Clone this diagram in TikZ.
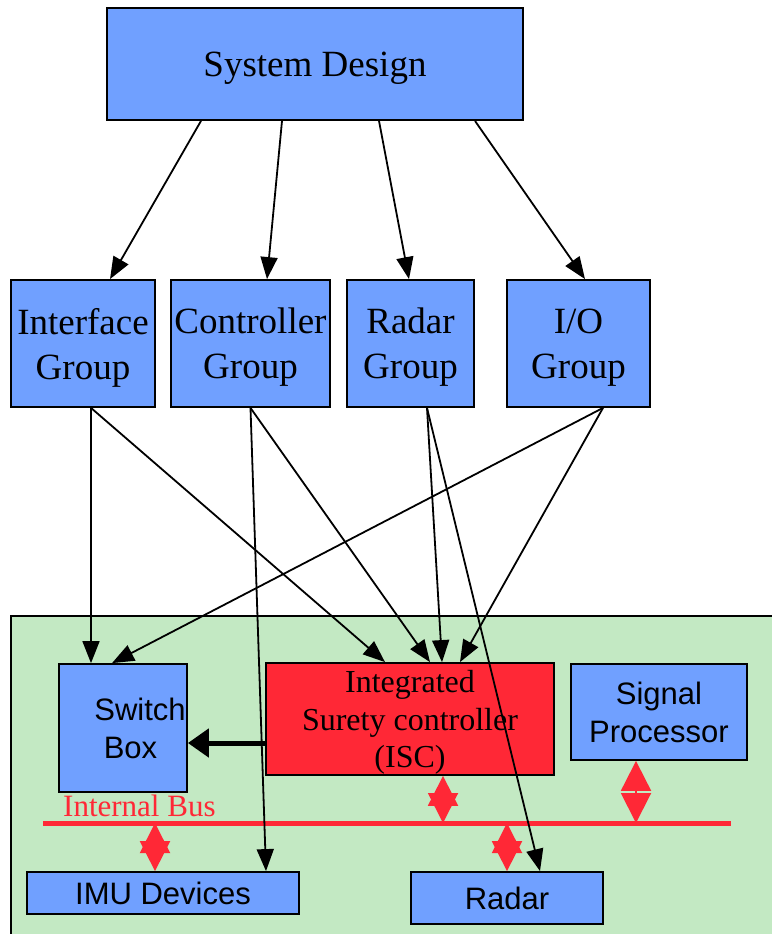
\documentclass[tikz,border=0pt]{standalone}
\usepackage{fontspec}
\setmainfont{Liberation Serif}
\setsansfont{Liberation Sans}
\usetikzlibrary{positioning, arrows.meta}

\definecolor{boxblue}{RGB}{112,160,255}
\definecolor{iscred}{RGB}{255,40,54}
\definecolor{boardgreen}{RGB}{195,233,195}

\begin{document}
\begin{tikzpicture}[x=1pt, y=-1pt,
    blk/.style={draw, line width=1.8pt, fill=boxblue, inner sep=0pt, align=center},
    grp/.style={blk, font=\fontsize{37}{45}\selectfont, minimum height=127pt,
                text depth=-5pt},
    unit/.style={blk, font=\sffamily\fontsize{31}{38}\selectfont},
    link/.style={-{Triangle[length=22pt,width=17pt]}, line width=1.8pt},
    fat/.style={-{Triangle[length=21pt,width=28pt]}, line width=5pt},
    dbl/.style={{Triangle[length=30pt,width=30pt]}-{Triangle[length=30pt,width=30pt]},
                iscred, line width=2pt}]
  \useasboundingbox (0,0) rectangle (772,934);

  % board
  \fill[boardgreen] (11,616) rectangle (772,934);
  \draw[line width=1.5pt] (11,934) -- (11,616) -- (772,616);

  % top level
  \node[blk, font=\fontsize{37}{45}\selectfont, minimum width=416pt,
        minimum height=112pt, text depth=0pt] (sd) at (315,64) {System Design};

  % groups
  \node[grp, minimum width=144pt] (ifg) at (83,343.5) {Interface\\Group};
  \node[grp, minimum width=159pt] (ctg) at (250.5,343.5) {Controller\\Group};
  \node[grp, minimum width=127pt] (rdg) at (410.5,343.5) {Radar\\Group};
  \node[grp, minimum width=143pt] (iog) at (578.5,343.5) {I/O\\Group};

  % board units
  \node[blk, minimum width=128pt, minimum height=128pt] (swb) at (123,728) {};
  \node[font=\sffamily\fontsize{31}{38}\selectfont, align=center] (swtxt)
    at (140,728) {Switch\\Box\hspace*{19pt}};
  \node[blk, fill=iscred, minimum width=288pt, minimum height=112pt,
        font=\fontsize{32}{37.5}\selectfont, text depth=-3pt] (isc) at (410,719)
    {Integrated\\Surety controller\\(ISC)};
  \node[unit, minimum width=176pt, minimum height=96pt] (sp) at (659,712) {Signal\\Processor};
  \node[unit, minimum width=272pt, minimum height=42pt, text depth=-3pt] (imu) at (163,893) {IMU Devices};
  \node[unit, minimum width=192pt, minimum height=52pt, text depth=-3pt] (rad) at (507,898) {Radar};

  % internal bus
  \coordinate (busL) at (43,823);
  \coordinate (busR) at (731,823);
  \draw[iscred, line width=5pt] (busL) -- (busR);
  \node[iscred, font=\fontsize{31}{38}\selectfont, anchor=base west, inner sep=0pt]
    (buslbl) at (63,816) {Internal Bus};

  % design tree
  \draw[link] ([xshift=-114pt]sd.south) -- ([xshift=27pt]ifg.north);
  \draw[link] ([xshift=-33pt]sd.south) -- ([xshift=16.5pt]ctg.north);
  \draw[link] ([xshift=64pt]sd.south) -- ([xshift=-1.5pt]rdg.north);
  \draw[link] ([xshift=160pt]sd.south) -- ([xshift=6.5pt]iog.north);

  % groups to board
  \draw[link] ([xshift=8pt]ifg.south) -- ([xshift=-32pt]swb.north);
  \draw[link] ([xshift=8pt]ifg.south) -- ([xshift=-25pt]isc.north);
  \draw[link] ([xshift=24.5pt]iog.south) -- ([xshift=-11pt]swb.north);
  \draw[link] (ctg.south) -- ([xshift=103pt]imu.north);
  \draw[link] (ctg.south) -- ([xshift=20pt]isc.north);
  \draw[link] ([xshift=16.5pt]rdg.south) -- ([xshift=32pt]isc.north);
  \draw[link] ([xshift=16.5pt]rdg.south) -- ([xshift=33pt]rad.north);
  \draw[link] ([xshift=24.5pt]iog.south) -- ([xshift=50pt]isc.north);

  % ISC drives the switch box
  \draw[fat] ([yshift=-24pt]isc.west) -- ([yshift=-24pt]isc.west -| swb.east);

  % bus taps
  \draw[dbl] ([xshift=33pt]isc.south) -- ([xshift=33pt]isc.south |- busL);
  \draw[dbl] ([xshift=-23pt]sp.south) -- ([xshift=-23pt]sp.south |- busL);
  \draw[dbl] ([xshift=-8pt]imu.north |- busL) -- ([xshift=-8pt]imu.north);
  \draw[dbl] (rad.north |- busL) -- (rad.north);
\end{tikzpicture}
\end{document}
